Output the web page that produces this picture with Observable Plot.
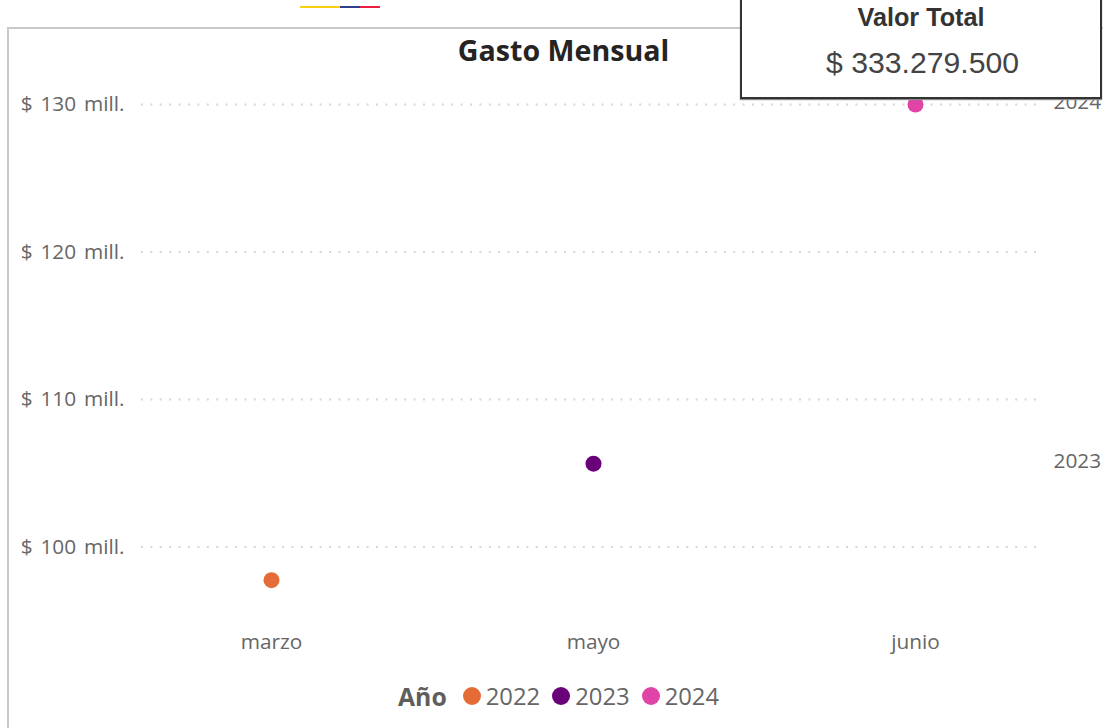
<!DOCTYPE html>
<html lang="es">
<head>
<meta charset="utf-8">
<script src="https://cdn.jsdelivr.net/npm/d3@7"></script>
<script src="https://cdn.jsdelivr.net/npm/@observablehq/plot@0.6"></script>
<style>
html,body{margin:0;padding:0;background:#fff;overflow:hidden}
#page{position:relative;width:1103px;height:728px;overflow:hidden}
#page svg{position:absolute;left:0;top:0;background:transparent}
.frame{position:absolute;left:7px;top:27px;width:1100px;height:720px;border:2px solid #c8c8c8;box-sizing:border-box}
.strip{position:absolute;top:6px;height:2px}
.title{position:absolute;left:8px;width:1111px;top:30px;text-align:center;font:700 28.6px "Open Sans",sans-serif;color:#252423;line-height:40px}
.card{position:absolute;left:740px;top:-10px;width:362px;height:109px;background:#fff;border:2px solid #333;box-sizing:border-box;text-align:center;font-family:"Liberation Sans",Arial,sans-serif;box-shadow:0 1px 1px #888}
.card .h{position:absolute;left:0;right:0;top:11px;font-weight:700;font-size:25.2px;line-height:28px;color:#333}
.card .v{position:absolute;left:3px;right:0;top:53px;font-size:30.2px;line-height:36px;color:#444}
.legend{position:absolute;left:398px;top:680px;height:32px;display:flex;align-items:center;font:23.8px "Open Sans",sans-serif;color:#666}
.legend b{margin-right:16px;color:#605e5c;font-size:24.8px}
.legend i{display:inline-block;width:18px;height:18px;border-radius:50%;margin-right:5px}
.legend span{margin-right:12px;display:flex;align-items:center}
</style>
</head>
<body>
<div id="page">
  <div class="frame"></div>
  <div class="strip" style="left:300px;width:40px;background:#fccf0c"></div>
  <div class="strip" style="left:340px;width:20px;background:#2e3f8f"></div>
  <div class="strip" style="left:360px;width:20px;background:#ee1c3e"></div>
  <div id="chart"></div>
  <div class="title">Gasto Mensual</div>
  <div class="card"><div class="h">Valor Total</div><div class="v">$ 333.279.500</div></div>
  <div class="legend" id="legend"></div>
</div>
<script>
const months = ["marzo", "mayo", "junio"];
const years = ["2022", "2023", "2024"];
const values = [97.75, 105.65, 130];
const colors = ["#E66C37", "#6B007B", "#E044A7"];
const yTicks = [100, 110, 120, 130];
const endLabels = ["2023", "2024"];

const rows = months.map((m, i) => ({month: m, year: years[i], value: values[i]}));
const endRows = rows.filter(d => endLabels.includes(d.year));

const chart = Plot.plot({
  width: 1103,
  height: 728,
  marginLeft: 141,
  marginRight: 63,
  marginTop: 0,
  marginBottom: 100,
  style: {fontFamily: '"Open Sans",sans-serif', background: "transparent", overflow: "visible", wordSpacing: "2.5px"},
  x: {type: "point", domain: months, range: [271, 915], padding: 0, label: null},
  y: {domain: [100, 130], range: [546.5, 104], label: null},
  color: {domain: years, range: colors},
  marks: [
    Plot.ruleY(yTicks, {stroke: "#d6d6d6", strokeWidth: 2, strokeDasharray: "2 7.4"}),
    Plot.axisY(yTicks, {
      anchor: "left", tickSize: 0, tickPadding: 17, fontSize: 20.8, fill: "#666",
      tickFormat: d => `$ ${d} mill.`, label: null
    }),
    Plot.axisX(months, {
      anchor: "bottom", tickSize: 0, tickPadding: 6, fontSize: 20.8, fill: "#666", label: null
    }),
    Plot.dot(rows, {x: "month", y: "value", fill: "year", r: 8}),
    Plot.text(endRows, {
      x: () => "junio", y: "value", text: "year", textAnchor: "start",
      dx: 138, dy: -2, fontSize: 20.8, fill: "#666"
    })
  ]
});
document.getElementById("chart").append(chart);

const legend = document.getElementById("legend");
legend.innerHTML = "<b>Año</b>" + years.map((y, i) =>
  `<span><i style="background:${colors[i]}"></i>${y}</span>`).join("");
</script>
</body>
</html>
